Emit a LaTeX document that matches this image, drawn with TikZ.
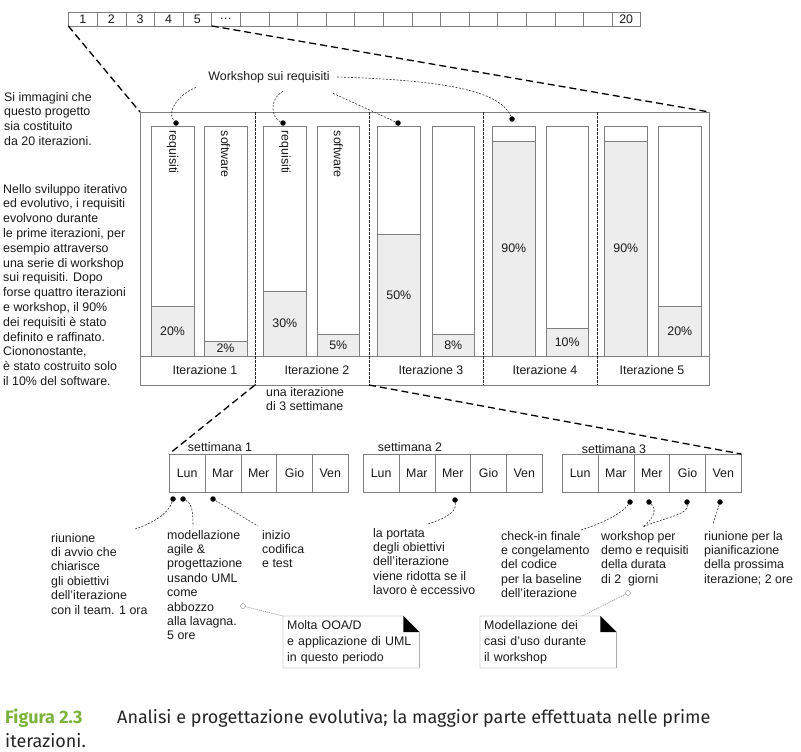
\documentclass[tikz,border=0pt]{standalone}
\usepackage{fontspec}
\setmainfont{Liberation Sans}
\newfontfamily\capfont{Fira Sans}
\usetikzlibrary{positioning,calc}
\definecolor{linegray}{HTML}{7F7F7F}
\definecolor{barfill}{HTML}{EDEDED}
\definecolor{capgreen}{HTML}{7DB33C}
\definecolor{inkdark}{HTML}{1A1A1A}
\newcommand\diafont{\fontsize{12.4}{14.8}\selectfont}
\newcommand\annfont{\fontsize{12.4}{14.4}\selectfont}
\tikzset{
  cellbox/.style={draw=linegray, minimum width=28.6pt, minimum height=13.5pt, inner sep=0pt},
  daybox/.style={draw=linegray, minimum width=35.8pt, minimum height=38pt, inner sep=0pt, anchor=north west},
  barbox/.style={draw=linegray, minimum width=42.7pt, minimum height=230pt, inner sep=0pt, anchor=south west},
  fillbox/.style={draw=linegray, fill=barfill, minimum width=42.7pt, minimum height=#1, inner sep=0pt, anchor=south west},
  vlabel/.style={rotate=-90, anchor=west, inner sep=0pt},
  blackdot/.style={circle, fill=black, inner sep=0pt, minimum size=5.5pt},
  opendot/.style={circle, draw=linegray, fill=white, inner sep=0pt, minimum size=5pt},
  zoomline/.style={draw=black, line width=1.3pt, dash pattern=on 7pt off 4pt},
  sepline/.style={draw=black!85, line width=0.6pt, dash pattern=on 2.5pt off 1.5pt},
  conn/.style={draw=black!80, line width=0.6pt, dash pattern=on 2pt off 1.5pt},
  noteline/.style={draw=linegray, line width=0.6pt, dash pattern=on 1pt off 1pt},
  txt/.style={align=left, inner sep=0pt, anchor=north west},
  anntxt/.style={txt, font=\annfont},
  notebox/.style={minimum width=136pt, minimum height=50pt, inner sep=4pt, text width=128pt,
                  align=left, anchor=north west, font=\fontsize{12.4}{16}\selectfont},
  captxt/.style={anchor=base west, inner sep=0pt, font=\fontsize{18}{24}\selectfont\capfont}
}
\begin{document}
\begin{tikzpicture}[x=1pt, y={(0pt,-1pt)}, font=\diafont, text=inkdark]
  \useasboundingbox[fill=white] (0,0) rectangle (801,752);

  % 20 iterations
  \foreach \i in {1,...,20}
    \node[cellbox] (c\i) at ({68.5+28.6*(\i-0.5)},19)
      {\ifnum\i<6 \i\fi\ifnum\i=6 \dots\fi\ifnum\i=20 20\fi};

  % left texts
  \node[txt] (intro) at (4,92) {Si immagini che\\questo progetto\\sia costituito\\da 20 iterazioni.};
  \node[txt] (story) at (3,184) {Nello sviluppo iterativo\\ed evolutivo, i requisiti\\evolvono durante\\le prime iterazioni, per\\esempio attraverso\\una serie di workshop\\sui requisiti. Dopo\\forse quattro iterazioni\\e workshop, il 90\%\\dei requisiti è stato\\definito e raffinato.\\Ciononostante,\\è stato costruito solo\\il 10\% del software.};

  % first five iterations
  \node[draw=linegray, minimum width=569pt, minimum height=273pt, inner sep=0pt, anchor=north west] (itbox) at (140,112) {};
  \draw[linegray] (140,356) -- (709,356);
  \foreach \k/\rx/\sx/\rh/\rp/\sh/\sp/\lx in {1/151/204/50/20/15/2/205, 2/263.3/316.7/65/30/22/5/317,
      3/377.3/431.7/122/50/22/8/431, 4/492.3/545.7/215/90/28/10/545, 5/604.3/658.3/215/90/50/20/652} {
    \node[barbox] (req\k) at (\rx,356) {};
    \node[barbox] (sw\k) at (\sx,356) {};
    \node[fillbox=\rh] (reqf\k) at (req\k.south west) {\rp\%};
    \node[fillbox=\sh] (swf\k) at (sw\k.south west) {\sp\%};
    \node (it\k) at (\lx,370) {Iterazione \k};
  }
  \foreach \k in {1,2} {
    \node[vlabel] at ($(req\k.north)+(0,5)$) {requisiti};
    \node[vlabel] at ($(sw\k.north)+(0,5)$) {software};
  }
  \foreach \sx in {255,369,483,597}
    \draw[sepline] (\sx,112) -- (\sx,385);
  \draw[zoomline] (c1.south west) -- (itbox.north west);
  \draw[zoomline] (c5.south east) -- (itbox.north east);

  % workshops
  \node (wslbl) at (269,77) {Workshop sui requisiti};
  \node[blackdot] (ws1) at (176,123) {};
  \node[blackdot] (ws2) at (283,123) {};
  \node[blackdot] (ws3) at (398,123) {};
  \node[blackdot] (ws4) at (512,119) {};
  \draw[conn] ([xshift=-9pt,yshift=-1pt]wslbl.south west) .. controls (178,95) and (166,112) .. (ws1);
  \draw[conn] ([xshift=14pt,yshift=-5pt]wslbl.south) .. controls (268,100) and (272,118) .. (ws2);
  \draw[conn] ([xshift=64pt,yshift=-7pt]wslbl.south) -- (ws3);
  \draw[conn] ([xshift=4pt]wslbl.east) .. controls (440,80) and (500,90) .. (ws4);

  % one iteration in weeks
  \node[txt] (itnote) at (266,387) {una iterazione\\di 3 settimane};
  \foreach \w/\x in {1/169,2/363,3/562}
    \foreach \d [count=\j] in {Lun,Mar,Mer,Gio,Ven}
      \node[daybox] (w\w d\j) at ({\x+35.8*(\j-1)},454) {\d};
  \node (wk1) at (220,447) {settimana 1};
  \node (wk2) at (410,447) {settimana 2};
  \node (wk3) at (614,449) {settimana 3};
  \coordinate (itcut1) at (255,385);
  \coordinate (itcut2) at (369,385);
  \draw[zoomline] (itcut1) -- (w1d1.north west);
  \draw[zoomline] (itcut2) -- (w3d5.north east);

  % events
  \node[blackdot] (d1) at (173,499) {};
  \node[blackdot] (d2) at (183,499) {};
  \node[blackdot] (d3) at (213,499) {};
  \node[blackdot] (d4) at (455,500) {};
  \node[blackdot] (d5) at (630,502) {};
  \node[blackdot] (d6) at (649,502) {};
  \node[blackdot] (d7) at (687,502) {};
  \node[blackdot] (d8) at (720,502) {};
  \node[anntxt] (a1) at (51,533) {riunione\\di avvio che\\chiarisce\\gli obiettivi\\dell’iterazione\\con il team. 1 ora};
  \node[anntxt] (a2) at (167,530) {modellazione\\agile \&\\progettazione\\usando UML\\come\\abbozzo\\alla lavagna.\\5 ore};
  \node[anntxt] (a3) at (262,530) {inizio\\codifica\\e test};
  \node[anntxt] (a4) at (373,528) {la portata\\degli obiettivi\\dell’iterazione\\viene ridotta se il\\lavoro è eccessivo};
  \node[anntxt] (a5) at (501,531) {check-in finale\\e congelamento\\del codice\\per la baseline\\dell’iterazione};
  \node[anntxt] (a6) at (601,531) {workshop per\\demo e requisiti\\della durata\\di 2~ giorni};
  \node[anntxt] (a7) at (704,531) {riunione per la\\pianificazione\\della prossima\\iterazione; 2 ore};
  \coordinate (e1) at (135,529);
  \coordinate (e2) at (193,526);
  \coordinate (e3) at (258,526);
  \coordinate (e4) at (428,524);
  \coordinate (e5) at (581,530);
  \coordinate (e6) at (643,527);
  \coordinate (e8) at (713,524);
  \draw[conn] (d1) .. controls (168,515) and (150,524) .. (e1);
  \draw[conn] (d2) .. controls (192,503) and (193,512) .. (e2);
  \draw[conn] (d3) -- (e3);
  \draw[conn] (d4) .. controls (457,514) and (440,520) .. (e4);
  \draw[conn] (d5) .. controls (622,514) and (600,524) .. (e5);
  \draw[conn] (d6) .. controls (658,510) and (652,520) .. (e6);
  \draw[conn] (d7) .. controls (689,515) and (662,518) .. (e6);
  \draw[conn] (d8) -- (e8);

  % notes
  \node[notebox] (n1) at (283,616) {Molta OOA/D\\e applicazione di UML\\in questo periodo};
  \node[notebox] (n2) at (480,616) {Modellazione dei\\casi d’uso durante\\il workshop};
  \foreach \n in {n1,n2} {
    \draw[linegray] (\n.north west) -- ([xshift=-16pt]\n.north east) -- ([yshift=-16pt]\n.north east)
      -- (\n.south east) -- (\n.south west) -- cycle;
    \fill[black] ([xshift=-16pt]\n.north east) -- ([xshift=-16pt,yshift=-16pt]\n.north east)
      -- ([yshift=-16pt]\n.north east) -- cycle;
  }
  \node[opendot] (o1) at (243,606) {};
  \node[opendot] (o2) at (628,593) {};
  \coordinate (n2top) at (582,616);
  \draw[noteline] (o1) -- (n1.north west);
  \draw[noteline] (o2) -- (n2top);

  % caption
  \node[captxt, text=capgreen] (figno) at (5,723) {\bfseries Figura 2.3};
  \node[captxt, text=black!85] (capl1) at (117,723) {Analisi e progettazione evolutiva; la maggior parte effettuata nelle prime};
  \node[captxt, text=black!85] (capl2) at (5,747) {iterazioni.};
\end{tikzpicture}
\end{document}
